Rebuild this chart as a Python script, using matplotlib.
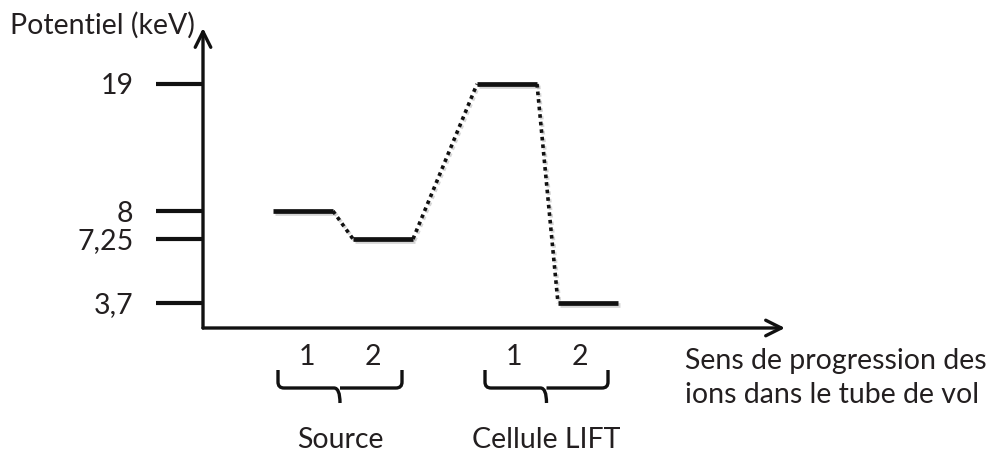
import numpy as np
import matplotlib
matplotlib.use("Agg")
import matplotlib.pyplot as plt
import matplotlib.patheffects as pe
from matplotlib.path import Path
from matplotlib.patches import PathPatch

plt.rcParams['font.family'] = ['Lato', 'DejaVu Sans']
plt.rcParams['font.size'] = 20.5

# schematic levels: label and height above the x axis (not to scale)
level_labels = ['19', '8', '7,25', '3,7']
level_heights = [244, 117, 89, 25]

# the four stages along the flight tube
stage_groups = ['Source', 'Source', 'Cellule LIFT', 'Cellule LIFT']
stage_numbers = ['1', '2', '1', '2']
stage_levels = ['8', '7,25', '19', '3,7']
stage_starts = [70, 150, 274, 355]
stage_width = 60

group_names = ['Source', 'Cellule LIFT']
group_spans = [(75, 199), (282, 405)]

ink = '#111111'
txt = '#231f20'
shadow = [pe.SimpleLineShadow(offset=(1.2, -1.2), shadow_color='#888888', alpha=0.35), pe.Normal()]

fig = plt.figure(figsize=(9.93, 4.58), dpi=100)
ax = fig.add_axes([203 / 993, 130 / 458, 582 / 993, 300 / 458])
ax.set_xlim(0, 582)
ax.set_ylim(0, 300)

for s in ax.spines.values():
    s.set_visible(False)

# axes drawn as arrows
arrow = dict(arrowstyle='->', lw=2.4, color=ink, mutation_scale=28, shrinkA=0, shrinkB=0)
ax.annotate('', xy=(0, 1), xytext=(0, 0), xycoords='axes fraction', arrowprops=arrow, annotation_clip=False)
ax.annotate('', xy=(1, 0), xytext=(0, 0), xycoords='axes fraction', arrowprops=arrow, annotation_clip=False)

ax.set_xticks([])
ax.set_yticks(level_heights)
ax.set_yticklabels(level_labels)
ax.tick_params(axis='y', direction='out', length=34, width=3, color=ink, pad=16, labelcolor=txt)

height_of = dict(zip(level_labels, level_heights))

# flat levels + dotted transitions
prev = None
for x0, lvl in zip(stage_starts, stage_levels):
    y = height_of[lvl]
    if prev is not None:
        ax.plot([prev[0], x0], [prev[1], y], color=ink, lw=2.6, ls=(0, (1, 1.1)),
                dash_capstyle='butt', clip_on=False, path_effects=shadow)
    ax.plot([x0, x0 + stage_width], [y, y], color=ink, lw=3.4, solid_capstyle='butt',
            clip_on=False, path_effects=shadow)
    prev = (x0 + stage_width, y)

# braces under each group with stage numbers
for name, (a, b) in zip(group_names, group_spans):
    c = (a + b) / 2
    top, mid, bot, r = -42, -60, -75, 6
    verts = [(a, top), (a, mid + r), (a, mid), (a + r, mid), (c - r, mid), (c, mid), (c, bot),
             (c, mid), (c + r, mid), (b - r, mid), (b, mid), (b, mid + r), (b, top)]
    codes = [Path.MOVETO, Path.LINETO, Path.CURVE3, Path.CURVE3, Path.LINETO, Path.CURVE3, Path.LINETO,
             Path.MOVETO, Path.LINETO, Path.LINETO, Path.CURVE3, Path.CURVE3, Path.LINETO]
    ax.add_patch(PathPatch(Path(verts, codes), fill=False, lw=2.4, ec=ink, clip_on=False))
    ax.text(c, -112, name, ha='center', va='center', color=txt)

for grp, num, x0 in zip(stage_groups, stage_numbers, stage_starts):
    a, b = group_spans[group_names.index(grp)]
    c = (a + b) / 2
    off = -33 if num == '1' else 33
    ax.text(c + off, -29, num, ha='center', va='center', color=txt)

ax.text(482, -33, 'Sens de progression des', ha='left', va='center', color=txt)
ax.text(482, -67, 'ions dans le tube de vol', ha='left', va='center', color=txt)

fig.text(10 / 993, 1 - 25 / 458, 'Potentiel (keV)', ha='left', va='center', color=txt)

fig.savefig('out.png', dpi=100)
